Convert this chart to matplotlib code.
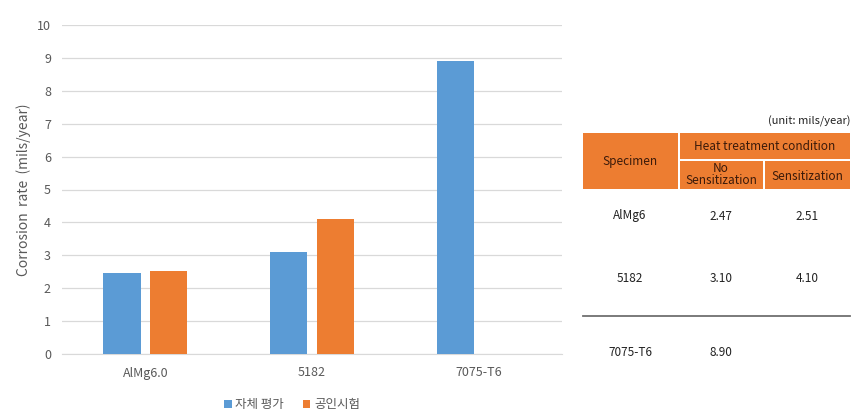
import numpy as np
import matplotlib
matplotlib.use('Agg')
import matplotlib.pyplot as plt
from matplotlib.patches import Rectangle
from matplotlib.lines import Line2D

plt.rcParams['font.family'] = ['Noto Sans CJK KR', 'DejaVu Sans']

# data
categories = ['AlMg6.0', '5182', '7075-T6']
self_eval = [2.47, 3.10, 8.90]
certified = [2.51, 4.10, 0]
series_names = ['자체 평가', '공인시험']
table_specimens = ['AlMg6', '5182', '7075-T6']
table_no_sens = ['2.47', '3.10', '8.90']
table_sens = ['2.51', '4.10', '']

blue = '#5B9BD5'
orange = '#ED7D31'
grey = '#595959'

W, H = 863, 413
fig = plt.figure(figsize=(W / 100, H / 100), dpi=100)
ax = fig.add_axes([62 / W, 1 - 354 / H, 500 / W, (354 - 25) / H])

x = np.arange(len(categories))
ax.bar(x - 0.14, self_eval, 0.225, color=blue, label=series_names[0], zorder=3)
ax.bar(x + 0.14, certified, 0.225, color=orange, label=series_names[1], zorder=3)
ax.set_xlim(-0.5, 2.5)
ax.set_ylim(0, 10)
ax.set_yticks(range(0, 11))
ax.set_xticks(x)
ax.set_xticklabels(categories)
ax.grid(axis='y', color='#D9D9D9', lw=0.9, zorder=0)
for s in ['top', 'right', 'left']:
    ax.spines[s].set_visible(False)
ax.spines['bottom'].set_color('#D9D9D9')
ax.tick_params(length=0, colors=grey, labelsize=9, pad=8)
ax.tick_params(axis='x', pad=9)
ax.set_ylabel('Corrosion  rate  (mils/year)', color=grey, fontsize=10, labelpad=4)
ax.legend(loc='upper center', bbox_to_anchor=(0.46, -0.1), ncol=2, frameon=False,
          fontsize=9, handlelength=0.6, handleheight=0.6, columnspacing=1.5,
          handletextpad=0.3, labelcolor=grey)

# table drawn in pixel coordinates
def px(xp, yp):
    return xp / W, 1 - yp / H

def rect(x0, y0, x1, y1):
    fig.patches.append(Rectangle(px(x0, y1), (x1 - x0) / W, (y1 - y0) / H,
                                 transform=fig.transFigure, color=orange, lw=0))

rect(583, 133, 678, 189)
rect(680, 133, 850, 159)
rect(680, 161, 763, 189)
rect(765, 161, 850, 189)

tc = '#3A1A0A'
fs = 8.5
fig.text(*px(850, 121), '(unit: mils/year)', ha='right', va='center', fontsize=8, color='#222222')
fig.text(*px(630, 162), 'Specimen', ha='center', va='center', fontsize=fs, color=tc)
fig.text(*px(765, 147), 'Heat treatment condition', ha='center', va='center', fontsize=fs, color=tc)
fig.text(*px(721, 175), 'No\nSensitization', ha='center', va='center', fontsize=fs, color=tc, linespacing=0.9)
fig.text(*px(807, 176), 'Sensitization', ha='center', va='center', fontsize=fs, color=tc)

row_y = [216, 279, 353]
for i in range(len(table_specimens)):
    fig.text(*px(630, row_y[i]), table_specimens[i], ha='center', va='center', fontsize=fs, color='#222222')
    fig.text(*px(721, row_y[i]), table_no_sens[i], ha='center', va='center', fontsize=fs, color='#222222')
    fig.text(*px(807, row_y[i]), table_sens[i], ha='center', va='center', fontsize=fs, color='#222222')

fig.lines.append(Line2D([583 / W, 850 / W], [1 - 316 / H, 1 - 316 / H],
                        transform=fig.transFigure, color='#707070', lw=1.3))

fig.savefig('out.png', dpi=100)
